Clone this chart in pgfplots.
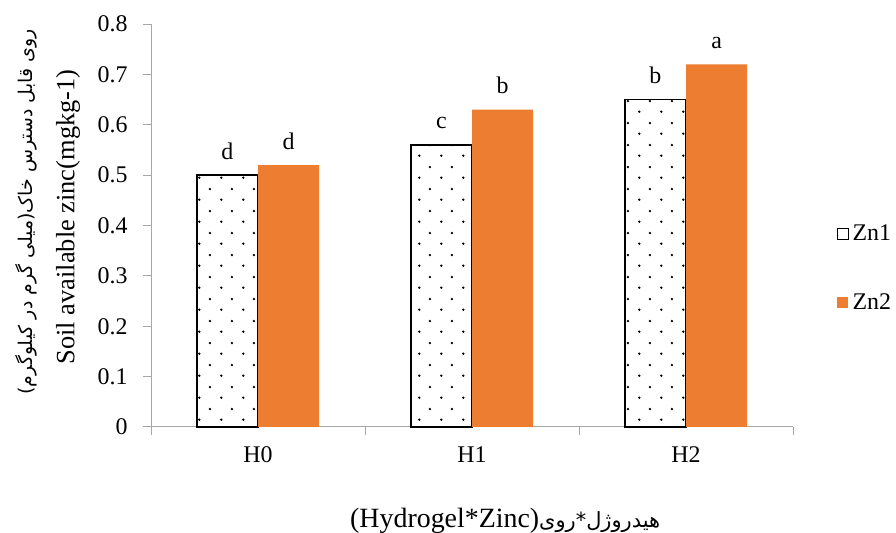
\documentclass[border=0pt]{standalone}
\usepackage{pgfplots}
\pgfplotsset{compat=1.18}
\usepackage{pgfplotstable}
\usepackage{fontspec}
\setmainfont{Liberation Serif}
\newfontfamily\farsi[Script=Arabic]{DejaVu Sans}
\TeXXeTstate=1
\usetikzlibrary{patterns.meta}

\definecolor{zntwo}{HTML}{ED7D31}
\definecolor{axisgray}{HTML}{A6A6A6}

% staggered dot fill for the Zn1 bars
\tikzdeclarepattern{
  name=zndots,
  type=uncolored,
  bottom left={(0bp,0bp)},
  top right={(21.6bp,21.6bp)},
  tile size={(21.6bp,21.6bp)},
  code={
    \fill (5.4bp,5.4bp) circle (1.35bp);
    \fill (16.2bp,16.2bp) circle (1.35bp);
  }
}

\pgfplotstableread{
x zn1 l1 zn2 l2
0 0.50 d 0.52 d
1 0.56 c 0.63 b
2 0.65 b 0.72 a
}\zndata

\newcommand{\chartfont}{\fontsize{24}{28}\selectfont}

\begin{document}
\begin{tikzpicture}
\useasboundingbox (0,0) rectangle (896bp,533bp);
\begin{axis}[
  at={(151bp,106bp)}, anchor=south west,
  scale only axis, width=642bp, height=403bp,
  xmin=-0.5, xmax=2.5, ymin=0, ymax=0.8,
  clip=false,
  axis x line*=bottom, axis y line*=left,
  axis line style={axisgray, line width=1bp, -},
  tick align=outside,
  major tick length=8bp, minor tick length=8bp,
  tick style={axisgray, line width=1bp},
  xtick={0,1,2}, xticklabels={H0,H1,H2},
  minor xtick={-0.5,0.5,1.5,2.5},
  major x tick style={draw=none},
  ytick={0,0.1,0.2,0.3,0.4,0.5,0.6,0.7,0.8},
  /pgf/number format/assume math mode=true,
  yticklabel style={/pgf/number format/fixed},
  ticklabel style={font=\chartfont, text=black},
  xticklabel style={yshift=-8bp},
  yticklabel style={xshift=-12bp},
  legend style={at={(axis description cs:1.063,0.395)}, anchor=west,
    draw=none, fill=none, font=\chartfont, row sep=47bp,
    /tikz/every odd column/.append style={column sep=2bp}},
  legend cell align=left,
  nodes near coords,
  point meta=explicit symbolic,
  nodes near coords style={font=\chartfont, text=black, anchor=base, yshift=16bp},
]
\addplot[ybar, bar width=0.286, bar shift=-0.143,
  draw=black, line width=1.5bp, pattern=zndots, pattern color=black,
  nodes near coords style={xshift=-30.6bp},
  legend image code/.code={\draw[draw=black, line width=1bp, pattern=zndots, pattern color=black] (0bp,-6bp) rectangle (11bp,5bp);}]
  table[x=x, y=zn1, meta=l1] {\zndata};
\addlegendentry{Zn1}
\addplot[ybar, bar width=0.286, bar shift=0.143,
  draw=none, fill=zntwo,
  nodes near coords style={xshift=30.6bp},
  legend image code/.code={\fill[zntwo] (0bp,-6bp) rectangle (11bp,5bp);}]
  table[x=x, y=zn2, meta=l2] {\zndata};
\addlegendentry{Zn2}
\end{axis}

% two-line value axis title
\node[rotate=90, anchor=center, font=\fontsize{26.5}{30}\selectfont] at (68bp,316bp)
  {Soil available zinc(mgkg-1)};
\node[rotate=90, anchor=center] at (26bp,321bp)
  {\farsi\fontsize{19}{22}\selectfont\beginR روی قابل دسترس خاک(میلی گرم در کیلوگرم)\endR};

% category axis title
\node[anchor=base west, inner sep=0pt, font=\fontsize{28}{32}\selectfont] at (350bp,6bp)
  {(Hydrogel*Zinc){\farsi\fontsize{21}{24}\selectfont\beginR هیدروژل*روی\endR}};
\end{tikzpicture}
\end{document}
